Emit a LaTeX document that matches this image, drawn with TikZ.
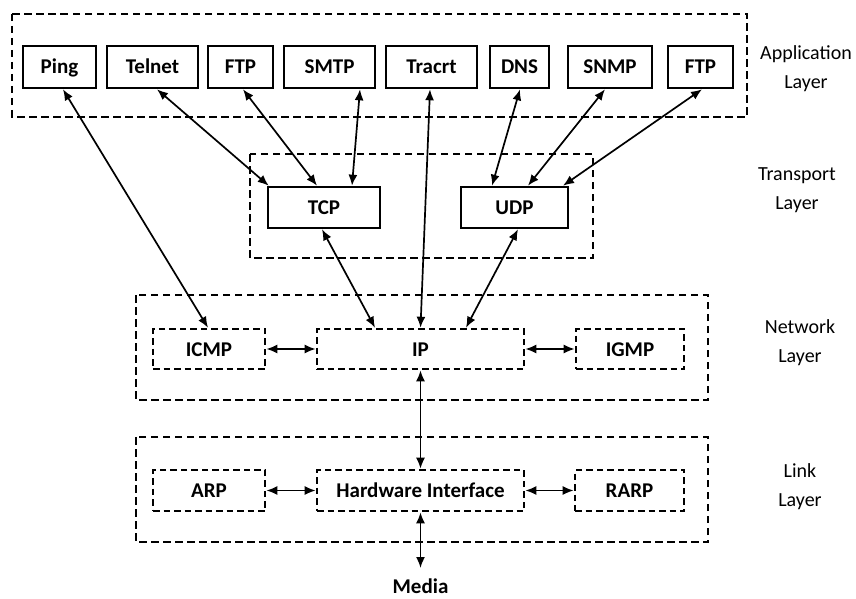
\documentclass[tikz,border=0pt]{standalone}
\usepackage{fontspec}
\setmainfont{Carlito}
\usetikzlibrary{arrows.meta,calc}

\begin{document}
\begin{tikzpicture}[x=1pt,y=-1pt,
  every node/.style={font=\fontsize{21}{26}\selectfont, inner sep=0pt},
  proto/.style={draw, line width=2.6pt, text height=15pt, text depth=1pt,
    font=\fontsize{21}{26}\selectfont\bfseries},
  dproto/.style={draw, line width=2.6pt, dash pattern=on 6.5pt off 4pt, text height=15pt, text depth=1pt,
    font=\fontsize{21}{26}\selectfont\bfseries},
  layerbox/.style={draw, line width=2.4pt, dash pattern=on 7.5pt off 4.5pt},
  layername/.style={align=center, font=\fontsize{20}{29}\selectfont},
  link/.style={line width=1.7pt, {Latex[length=11pt,width=9pt]}-{Latex[length=11pt,width=9pt]}}
]
\useasboundingbox (0,0) rectangle (856,599);

% layer frames
\draw[layerbox] (12,14) rectangle (747,117);
\draw[layerbox] (250,154) rectangle (593,258);
\draw[layerbox] (136,295) rectangle (708,400);
\draw[layerbox] (136,437) rectangle (708,542);

% application protocols
\node[proto, minimum width=73pt, minimum height=42pt] (ping)   at (59.5,67)  {Ping};
\node[proto, minimum width=91pt, minimum height=42pt] (telnet) at (152.5,67) {Telnet};
\node[proto, minimum width=65pt, minimum height=42pt] (ftpa)   at (240.5,67) {FTP};
\node[proto, minimum width=91pt, minimum height=42pt] (smtp)   at (329.5,67) {SMTP};
\node[proto, minimum width=91pt, minimum height=42pt] (tracrt) at (431.5,67) {Tracrt};
\node[proto, minimum width=59pt, minimum height=42pt] (dns)    at (519.5,67) {DNS};
\node[proto, minimum width=84pt, minimum height=42pt] (snmp)   at (610,67)   {SNMP};
\node[proto, minimum width=65pt, minimum height=42pt] (ftpb)   at (700.5,67) {FTP};

% transport protocols
\node[proto, minimum width=112pt, minimum height=41pt] (tcp) at (324,207.5)   {TCP};
\node[proto, minimum width=107pt, minimum height=41pt] (udp) at (514.5,207.5) {UDP};

% network layer
\node[dproto, minimum width=112pt, minimum height=40pt] (icmp) at (209,349)   {ICMP};
\node[dproto, minimum width=207pt, minimum height=40pt] (ip)   at (420.5,349) {IP};
\node[dproto, minimum width=108pt, minimum height=40pt] (igmp) at (630,349)   {IGMP};

% link layer
\node[dproto, minimum width=112pt, minimum height=41pt] (arp)  at (209,490.5)   {ARP};
\node[dproto, minimum width=207pt, minimum height=41pt] (hw)   at (420.5,490.5) {Hardware Interface};
\node[dproto, minimum width=109pt, minimum height=41pt] (rarp) at (629.5,490.5) {RARP};

% media
\coordinate (mediaend) at (420.5,568);
\node[font=\fontsize{21}{26}\selectfont\bfseries, text height=15pt, text depth=1pt] (media) at (420.5,586.5) {Media};

% layer names
\node[layername] (lapp)  at (806,69)  {Application\\Layer};
\node[layername] (ltrn)  at (797,190) {Transport\\Layer};
\node[layername] (lnet)  at (800,343) {Network\\Layer};
\node[layername] (llink) at (800,487) {Link\\Layer};

% connections
\draw[link] ([xshift=3.5pt]ping.south)   -- ([xshift=-1pt]icmp.north);
\draw[link] ([xshift=4.5pt]telnet.south) -- ([xshift=2pt]tcp.north west);
\draw[link] ([xshift=2.5pt]ftpa.south)   -- ([xshift=-7pt]tcp.north);
\draw[link] ([xshift=30.5pt]smtp.south)  -- ([xshift=28pt]tcp.north);
\draw[link] ([xshift=-1.5pt]tracrt.south) -- ([xshift=0pt]ip.north);
\draw[link] ([xshift=0.5pt]dns.south)    -- ([xshift=-22.5pt]udp.north);
\draw[link] ([xshift=-5pt]snmp.south)    -- ([xshift=13.5pt]udp.north);
\draw[link] ([xshift=1.5pt]ftpb.south)   -- ([xshift=48.5pt]udp.north);
\draw[link] ([xshift=-2pt]tcp.south)     -- ([xshift=-45.5pt]ip.north);
\draw[link] ([xshift=3.5pt]udp.south)    -- ([xshift=45.5pt]ip.north);
\draw[link] (icmp.east) -- (ip.west);
\draw[link] (ip.east) -- (igmp.west);
\draw[link] (ip.south) -- (hw.north);
\draw[link] (arp.east) -- (hw.west);
\draw[link] (hw.east) -- (rarp.west);
\draw[link] (hw.south) -- (mediaend);
\end{tikzpicture}
\end{document}
